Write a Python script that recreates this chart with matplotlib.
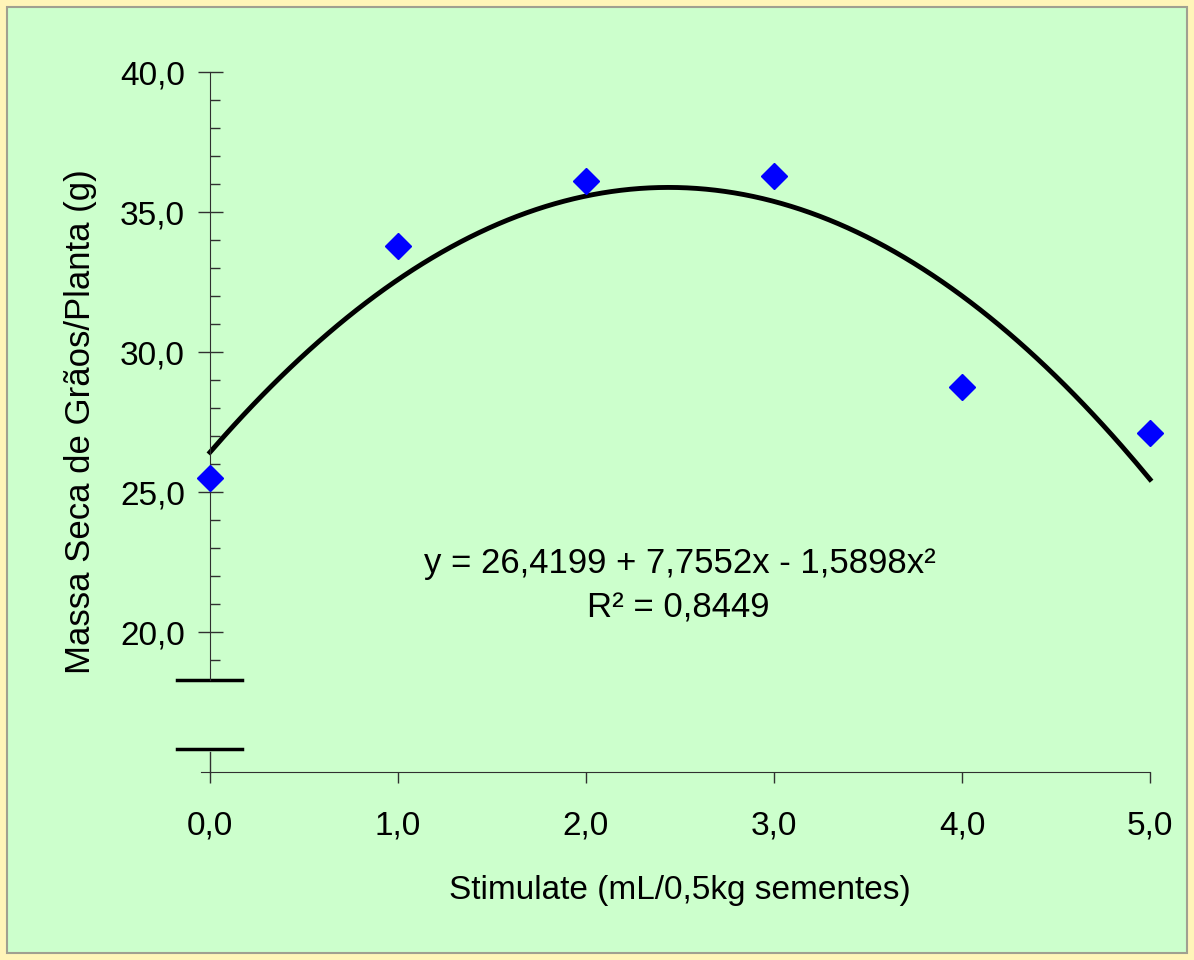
import matplotlib
matplotlib.use('Agg')
import matplotlib.pyplot as plt
import numpy as np
from matplotlib.patches import Rectangle

# dados
doses = [0, 1, 2, 3, 4, 5]
massa = [25.5, 33.8, 36.1, 36.3, 28.75, 27.1]
coef = [-1.5898, 7.7552, 26.4199]  # y = 26,4199 + 7,7552x - 1,5898x^2
r2 = 0.8449

yticks_major = [20, 25, 30, 35, 40]
xticks = [0, 1, 2, 3, 4, 5]

plt.rcParams['font.family'] = ['Liberation Sans', 'DejaVu Sans']

fig = plt.figure(figsize=(11.94, 9.6), dpi=100)
fig.patch.set_facecolor('#FFF5B8')
fig.patches.append(Rectangle((7/1194, 7/960), 1 - 14/1194, 1 - 14/960,
                             transform=fig.transFigure, facecolor='#CCFFCC',
                             edgecolor='#A0A090', linewidth=1.5, zorder=-10))

ax = fig.add_axes([210/1194, 1 - 772/960, 940/1194, 700/960])
ax.set_zorder(5)
ax.set_facecolor('none')
ax.set_xlim(0, 5)
ax.set_ylim(15, 40)

# linha de tendencia
xs = np.linspace(0, 5, 200)
ax.plot(xs, np.polyval(coef, xs), color='black', lw=3.5, zorder=2, clip_on=False)
ax.plot(doses, massa, 'D', color='#0000FF', ms=13, zorder=3, clip_on=False)

for s in ['top', 'right']:
    ax.spines[s].set_visible(False)
ax.spines['left'].set_bounds(18.3, 40)
ax.spines['bottom'].set_bounds(-0.05, 5)
ax.spines['left'].set_color('#303030')
ax.spines['bottom'].set_color('#303030')

# quebra do eixo
ax.plot([-0.175, 0.17], [18.3, 18.3], color='black', lw=2.5, clip_on=False)
ax.plot([-0.175, 0.17], [15.82, 15.82], color='black', lw=2.5, clip_on=False)
ax.plot([0, 0], [15.0, 15.72], color='#303030', lw=1, clip_on=False)

ax.set_yticks(yticks_major)
ax.set_yticklabels([('%.1f' % v).replace('.', ',') for v in yticks_major])
ax.set_yticks([v for v in range(19, 40) if v % 5 != 0], minor=True)
ax.tick_params(axis='y', which='major', direction='inout', length=18, width=1,
               labelsize=24, pad=9, color='#303030')
ax.tick_params(axis='y', which='minor', direction='in', length=7, width=1,
               color='#303030')

ax.set_xticks(xticks)
ax.set_xticklabels([('%.1f' % v).replace('.', ',') for v in xticks])
ax.tick_params(axis='x', which='major', direction='out', length=8, width=1,
               labelsize=24, pad=20, color='#303030')

ax.set_xlabel('Stimulate (mL/0,5kg sementes)', fontsize=24)
ax.set_ylabel('Massa Seca de Grãos/Planta (g)', fontsize=25)
ax.xaxis.set_label_coords(0.5, (772 - 891) / 700)
ax.xaxis.label.set_va('center')
ax.yaxis.set_label_coords((80 - 210) / 940, 0.5)
ax.yaxis.label.set_va('center')

eq = 'y = %s + %sx - %sx²' % (('%.4f' % coef[2]).replace('.', ','),
                               ('%.4f' % coef[1]).replace('.', ','),
                               ('%.4f' % -coef[0]).replace('.', ','))
ax.text(2.5, 22.45, eq, ha='center', va='center', fontsize=25)
ax.text(2.49, 20.85, 'R² = ' + ('%.4f' % r2).replace('.', ','),
        ha='center', va='center', fontsize=25)

fig.savefig('out.png', dpi=100, facecolor=fig.get_facecolor())
